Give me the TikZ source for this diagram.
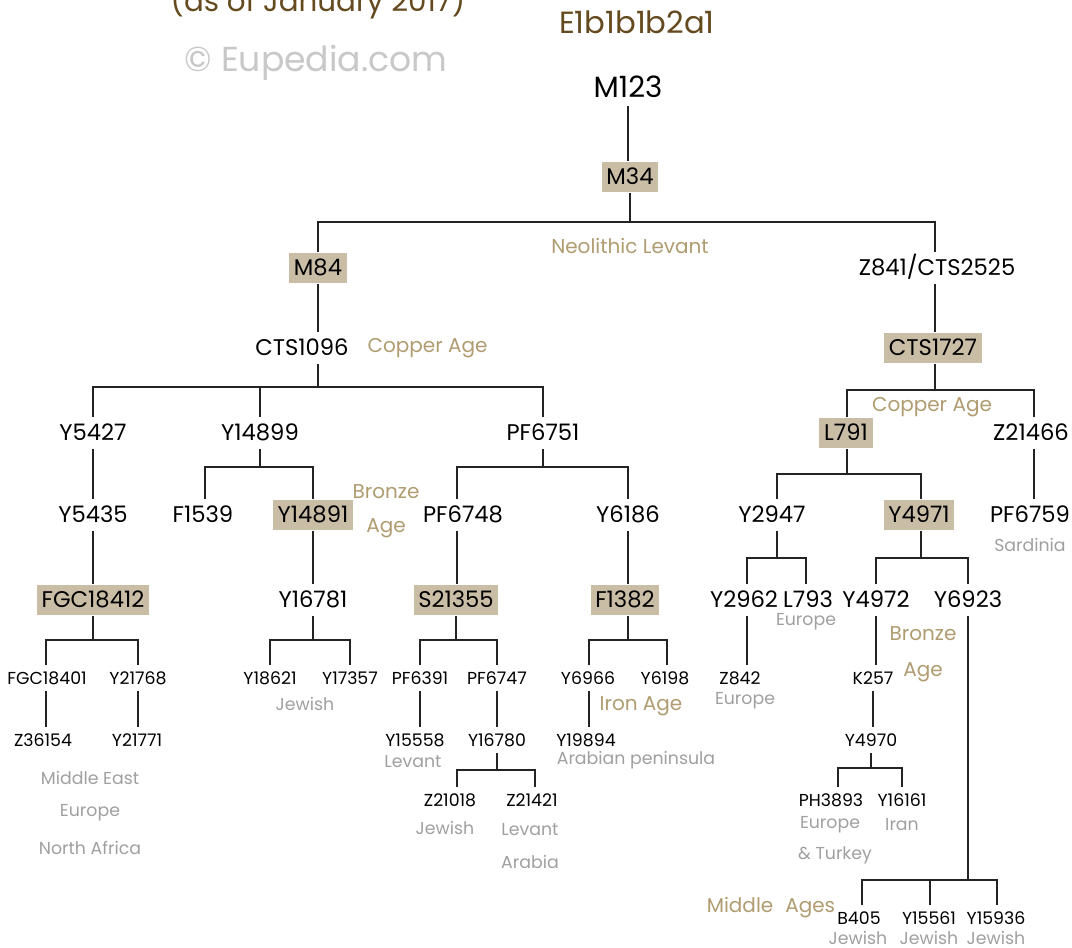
\documentclass[tikz,border=0pt]{standalone}
\usepackage{fontspec}
\setmainfont{Poppins}
\definecolor{tanfill}{RGB}{201,189,166}
\definecolor{tantxt}{RGB}{176,156,112}
\definecolor{greytxt}{RGB}{160,160,160}
\definecolor{brown}{RGB}{100,74,30}
\definecolor{eupgrey}{RGB}{200,200,200}
\definecolor{linec}{RGB}{35,35,35}
\tikzset{
  big/.style={font=\fontsize{17}{19}\selectfont, text height=11.9pt, text depth=0pt, inner xsep=3.5pt, inner ysep=5.5pt, text=black},
  topn/.style={font=\fontsize{22}{24}\selectfont, text height=15.4pt, text depth=0pt, inner xsep=3pt, inner ysep=6pt},
  sm/.style={font=\fontsize{13}{15}\selectfont, text height=9.1pt, text depth=0pt, inner xsep=2pt, inner ysep=5pt},
  hl/.style={fill=tanfill},
  region/.style={text=greytxt, font=\fontsize{13}{15}\selectfont, inner sep=1pt},
  era/.style={text=tantxt, font=\fontsize{15}{17}\selectfont, inner sep=1pt},
  conn/.style={line width=2.2pt, draw=linec},
}
\begin{document}
\begin{tikzpicture}[x=0.75pt,y=-0.75pt]
\useasboundingbox (0,0) rectangle (1072,948);
\fill[white] (0,0) rectangle (1072,948);

% headings
\node[anchor=base, text=brown, font=\fontsize{22}{24}\selectfont, inner sep=0pt] (asof) at (318,12) {(as of January 2017)};
\node[anchor=base, text=brown, font=\fontsize{23}{25}\selectfont, inner sep=0pt] (hg) at (637,34) {E1b1b1b2a1};
\node[anchor=base, text=eupgrey, font=\fontsize{26}{28}\selectfont, inner sep=0pt] (eup) at (316,72) {© Eupedia.com};

% top
\node[topn] (m123) at (628,87) {M123};
\node[big,hl] (m34) at (630,177) {M34};
\draw[conn] (m123.south) -- (m123.south |- m34.north);

\coordinate (b1l) at (318,222);
\coordinate (b1r) at (935,222);
\node[big,hl] (m84) at (318,268) {M84};
\node[big] (z841) at (937,268) {Z841/CTS2525};
\node[era] (neo) at (630,246) {Neolithic Levant};
\draw[conn] (m34.south) -- (m34.south |- b1l);
\draw[conn] (b1l |- m84.north) -- (b1l) -- (b1r) -- (b1r |- z841.north);

% left branch
\node[big] (cts1096) at (302,348) {CTS1096};
\node[era, anchor=west] (ca1) at (366,348) {Copper Age};
\draw[conn] (m84.south) -- (m84.south |- cts1096.north);

\coordinate (b2l) at (93,387);
\coordinate (b2m) at (260,387);
\coordinate (b2r) at (543,387);
\node[big] (y5427) at (93,433) {Y5427};
\node[big] (y14899) at (260,433) {Y14899};
\node[big] (pf6751) at (543,433) {PF6751};
\draw[conn] (m84.south |- cts1096.south) -- (m84.south |- b2l);
\draw[conn] (b2l |- y5427.north) -- (b2l) -- (b2r) -- (b2r |- pf6751.north);
\draw[conn] (b2m) -- (b2m |- y14899.north);

\node[big] (y5435) at (93,515) {Y5435};
\draw[conn] (y5427.south) -- (y5427.south |- y5435.north);

\coordinate (b3l) at (205,467);
\coordinate (b3r) at (313,467);
\node[big] (f1539) at (203,515) {F1539};
\node[big,hl] (y14891) at (313,515) {Y14891};
\node[era] (bronze1) at (386,492) {Bronze};
\node[era] (age1) at (386,528) {Age};
\draw[conn] (y14899.south) -- (y14899.south |- b3l);
\draw[conn] (b3l |- f1539.north) -- (b3l) -- (b3r) -- (b3r |- y14891.north);

\coordinate (b4l) at (457,467);
\coordinate (b4r) at (628,467);
\node[big] (pf6748) at (463,515) {PF6748};
\node[big] (y6186) at (628,515) {Y6186};
\draw[conn] (pf6751.south) -- (pf6751.south |- b4l);
\draw[conn] (b4l |- pf6748.north) -- (b4l) -- (b4r) -- (b4r |- y6186.north);

% FGC18412
\node[big,hl] (fgc18412) at (93,600) {FGC18412};
\draw[conn] (y5435.south) -- (y5435.south |- fgc18412.north);
\coordinate (b5l) at (46,640);
\coordinate (b5r) at (138,640);
\node[sm] (fgc18401) at (47,678) {FGC18401};
\node[sm] (y21768) at (138,678) {Y21768};
\draw[conn] (fgc18412.south) -- (fgc18412.south |- b5l);
\draw[conn] (b5l |- fgc18401.north) -- (b5l) -- (b5r) -- (b5r |- y21768.north);
\node[sm] (z36154) at (43,740) {Z36154};
\node[sm] (y21771) at (137,740) {Y21771};
\draw[conn] (b5l |- fgc18401.south) -- (b5l |- z36154.north);
\draw[conn] (b5r |- y21768.south) -- (b5r |- y21771.north);
\node[region] (me) at (90,778) {Middle East};
\node[region] (eu1) at (90,813) {Europe};
\node[region] (na) at (90,848) {North Africa};

% Y16781
\node[big] (y16781) at (313,600) {Y16781};
\draw[conn] (y14891.south) -- (y14891.south |- y16781.north);
\coordinate (b6l) at (270,640);
\coordinate (b6r) at (350,640);
\node[sm] (y18621) at (270,678) {Y18621};
\node[sm] (y17357) at (350,678) {Y17357};
\node[region] (jew1) at (305,704) {Jewish};
\draw[conn] (y16781.south) -- (y16781.south |- b6l);
\draw[conn] (b6l |- y18621.north) -- (b6l) -- (b6r) -- (b6r |- y17357.north);

% S21355
\node[big,hl] (s21355) at (456,600) {S21355};
\draw[conn] (b4l |- pf6748.south) -- (b4l |- s21355.north);
\coordinate (b7l) at (420,640);
\coordinate (b7r) at (497,640);
\node[sm] (pf6391) at (420,678) {PF6391};
\node[sm] (pf6747) at (497,678) {PF6747};
\draw[conn] (s21355.south) -- (s21355.south |- b7l);
\draw[conn] (b7l |- pf6391.north) -- (b7l) -- (b7r) -- (b7r |- pf6747.north);
\node[sm] (y15558) at (415,740) {Y15558};
\node[region] (lev1) at (413,762) {Levant};
\draw[conn] (b7l |- pf6391.south) -- (b7l |- y15558.north);
\node[sm] (y16780) at (497,740) {Y16780};
\draw[conn] (b7r |- pf6747.south) -- (b7r |- y16780.north);
\coordinate (b8l) at (457,770);
\coordinate (b8r) at (535,770);
\node[sm] (z21018) at (450,800) {Z21018};
\node[sm] (z21421) at (532,800) {Z21421};
\draw[conn] (b7r |- y16780.south) -- (b7r |- b8l);
\draw[conn] (b8l |- z21018.north) -- (b8l) -- (b8r) -- (b8r |- z21421.north);
\node[region] (jew2) at (445,828) {Jewish};
\node[region] (lev2) at (530,830) {Levant};
\node[region] (arabia) at (530,862) {Arabia};

% F1382
\node[big,hl] (f1382) at (625,600) {F1382};
\draw[conn] (b4r |- y6186.south) -- (b4r |- f1382.north);
\coordinate (b9l) at (589,640);
\coordinate (b9r) at (667,640);
\node[sm] (y6966) at (588,678) {Y6966};
\node[sm] (y6198) at (665,678) {Y6198};
\draw[conn] (b4r |- f1382.south) -- (b4r |- b9l);
\draw[conn] (b9l |- y6966.north) -- (b9l) -- (b9r) -- (b9r |- y6198.north);
\node[era] (iron) at (641,706) {Iron Age};
\node[sm] (y19894) at (586,740) {Y19894};
\draw[conn] (b9l |- y6966.south) -- (b9l |- y19894.north);
\node[region] (arab) at (636,760) {Arabian peninsula};

% right branch
\node[big,hl] (cts1727) at (933,348) {CTS1727};
\draw[conn] (b1r |- z841.south) -- (b1r |- cts1727.north);
\coordinate (b10l) at (847,390);
\coordinate (b10r) at (1034,390);
\node[era] (ca2) at (932,407) {Copper Age};
\node[big,hl] (l791) at (846,433) {L791};
\node[big] (z21466) at (1031,433) {Z21466};
\draw[conn] (b1r |- cts1727.south) -- (b1r |- b10l);
\draw[conn] (b10l |- l791.north) -- (b10l) -- (b10r) -- (b10r |- z21466.north);
\node[big] (pf6759) at (1030,515) {PF6759};
\node[region] (sard) at (1030,545) {Sardinia};
\draw[conn] (b10r |- z21466.south) -- (b10r |- pf6759.north);

\coordinate (b11l) at (777,474);
\coordinate (b11r) at (921,474);
\node[big] (y2947) at (772,515) {Y2947};
\node[big,hl] (y4971) at (919,515) {Y4971};
\draw[conn] (b10l |- l791.south) -- (b10l |- b11l);
\draw[conn] (b11l |- y2947.north) -- (b11l) -- (b11r) -- (b11r |- y4971.north);

\coordinate (b12l) at (747,558);
\coordinate (b12r) at (806,558);
\node[big] (y2962) at (744,600) {Y2962};
\node[big] (l793) at (808,600) {L793};
\node[region] (eu2) at (806,622) {Europe};
\draw[conn] (b11l |- y2947.south) -- (b11l |- b12l);
\draw[conn] (b12l |- y2962.north) -- (b12l) -- (b12r) -- (b12r |- l793.north);
\node[sm] (z842) at (740,678) {Z842};
\node[region] (eu3) at (745,701) {Europe};
\draw[conn] (b12l |- y2962.south) -- (b12l |- z842.north);

\coordinate (b13l) at (876,558);
\coordinate (b13r) at (968,558);
\node[big] (y4972) at (876,600) {Y4972};
\node[big] (y6923) at (968,600) {Y6923};
\draw[conn] (b11r |- y4971.south) -- (b11r |- b13l);
\draw[conn] (b13l |- y4972.north) -- (b13l) -- (b13r) -- (b13r |- y6923.north);
\node[era] (bronze2) at (923,634) {Bronze};
\node[era] (age2) at (923,672) {Age};
\node[sm] (k257) at (873,678) {K257};
\draw[conn] (b13l |- y4972.south) -- (b13l |- k257.north);
\node[sm] (y4970) at (871,740) {Y4970};
\coordinate (b14l) at (838,768);
\coordinate (b14r) at (902,768);
\draw[conn] (k257.south) -- (k257.south |- y4970.north);
\draw[conn] (y4970.south) -- (y4970.south |- b14l);
\node[sm] (ph3893) at (831,800) {PH3893};
\node[sm] (y16161) at (902,800) {Y16161};
\draw[conn] (b14l |- ph3893.north) -- (b14l) -- (b14r) -- (b14r |- y16161.north);
\node[region] (eu4) at (830,825) {Europe};
\node[region] (turkey) at (835,855) {\& Turkey};
\node[region] (iran) at (902,825) {Iran};

\coordinate (b15l) at (862,880);
\coordinate (b15m) at (930,880);
\coordinate (b15r) at (997,880);
\node[sm] (b405) at (859,918) {B405};
\node[sm] (y15561) at (929,918) {Y15561};
\node[sm] (y15936) at (996,918) {Y15936};
\draw[conn] (b13r |- y6923.south) -- (b13r |- b15l);
\draw[conn] (b15l |- b405.north) -- (b15l) -- (b15r) -- (b15r |- y15936.north);
\draw[conn] (b15m) -- (b15m |- y15561.north);
\node[region] (jw3) at (858,938) {Jewish};
\node[region] (jw4) at (929,938) {Jewish};
\node[region] (jw5) at (996,938) {Jewish};
\node[era] (midage) at (771,908) {Middle\hspace{0.6em}Ages};
\end{tikzpicture}
\end{document}
